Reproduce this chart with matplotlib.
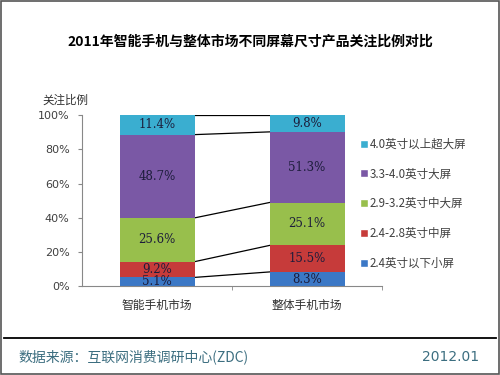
import numpy as np
import matplotlib
matplotlib.use('Agg')
import matplotlib.pyplot as plt
from matplotlib.lines import Line2D
from matplotlib.patches import Rectangle

plt.rcParams['font.family'] = ['Noto Sans CJK SC', 'DejaVu Sans']

# data (segment heights as drawn in the picture; labels as printed)
categories = ['智能手机市场', '整体手机市场']
series = ['2.4英寸以下小屏', '2.4-2.8英寸中屏', '2.9-3.2英寸中大屏', '3.3-4.0英寸大屏', '4.0英寸以上超大屏']
smart = [5.1, 9.2, 25.6, 48.7, 11.4]
overall = [8.3, 15.5, 25.1, 41.3, 9.8]
smart_labels = ['5.1%', '9.2%', '25.6%', '48.7%', '11.4%']
overall_labels = ['8.3%', '15.5%', '25.1%', '51.3%', '9.8%']
colors = ['#3b78c6', '#c63b3a', '#98bf4c', '#7a58a5', '#3aaed0']
yticks = [0, 20, 40, 60, 80, 100]

values = np.array([smart, overall])  # shape (2 categories, 5 series)
labels = [smart_labels, overall_labels]

fig = plt.figure(figsize=(5, 3.75), dpi=100)
ax = fig.add_axes([0.164, 0.237, 0.600, 0.456])

x = np.arange(len(categories))
width = 0.5
bottoms = np.zeros(len(categories))
for i, name in enumerate(series):
    ax.bar(x, values[:, i], width, bottom=bottoms, color=colors[i], label=name, zorder=2)
    for j in range(len(categories)):
        v = values[j, i]
        ax.text(x[j], bottoms[j] + v / 2, labels[j][i], ha='center', va='center',
                fontsize=8.5, color='#1c1c3a', family='DejaVu Serif', zorder=3)
    bottoms += values[:, i]

# series lines between the bars
cum = np.cumsum(values, axis=1)
for k in range(cum.shape[1]):
    ax.plot([x[0] + width / 2, x[1] - width / 2], [cum[0, k], cum[1, k]],
            color='black', lw=0.9, zorder=1)

ax.set_xlim(-0.5, 1.5)
ax.set_ylim(0, 100)
ax.set_yticks(yticks)
ax.set_yticklabels([f'{t}%' for t in yticks], fontsize=8, color='#404040', family='DejaVu Sans')
ax.set_xticks(x)
ax.set_xticklabels(categories, fontsize=8.5, color='#303030')
ax.set_xticks([0.5, 1.5], minor=True)
ax.tick_params(axis='x', which='major', length=0, pad=9)
ax.tick_params(axis='x', which='minor', length=3, color='#888888')
ax.tick_params(axis='y', length=3, color='#888888', pad=6)
for s in ['top', 'right']:
    ax.spines[s].set_visible(False)
for s in ['left', 'bottom']:
    ax.spines[s].set_color('#888888')
    ax.spines[s].set_linewidth(0.8)

handles = [Line2D([0], [0], marker='s', color='w', markerfacecolor=c, markersize=5.5) for c in colors]
leg = fig.legend(handles[::-1], series[::-1], loc='upper left', bbox_to_anchor=(0.71, 0.645),
                 frameon=False, fontsize=8.3, labelspacing=1.45, handlelength=0.8,
                 handletextpad=0.1, borderaxespad=0)
for t in leg.get_texts():
    t.set_color('#404040')

fig.text(0.5, 0.89, '2011年智能手机与整体市场不同屏幕尺寸产品关注比例对比',
         ha='center', va='center', fontsize=10, fontweight='bold', color='black')
fig.text(0.084, 0.733, '关注比例', fontsize=8.3, color='#303030', va='center')

# footer
fig.add_artist(Line2D([0.008, 0.992], [0.099, 0.099], color='black', lw=1.3))
fig.text(0.036, 0.048, '数据来源：互联网消费调研中心(ZDC)', fontsize=10, color='#3c6e80', va='center')
fig.text(0.958, 0.048, '2012.01', fontsize=10, color='#3c6e80', va='center', ha='right',
         family='DejaVu Sans')

# outer frame
fig.add_artist(Rectangle((0.002, 0.003), 0.996, 0.994, fill=False, edgecolor='#555555', lw=1.2,
                         transform=fig.transFigure))

fig.savefig('out.png', dpi=100)
